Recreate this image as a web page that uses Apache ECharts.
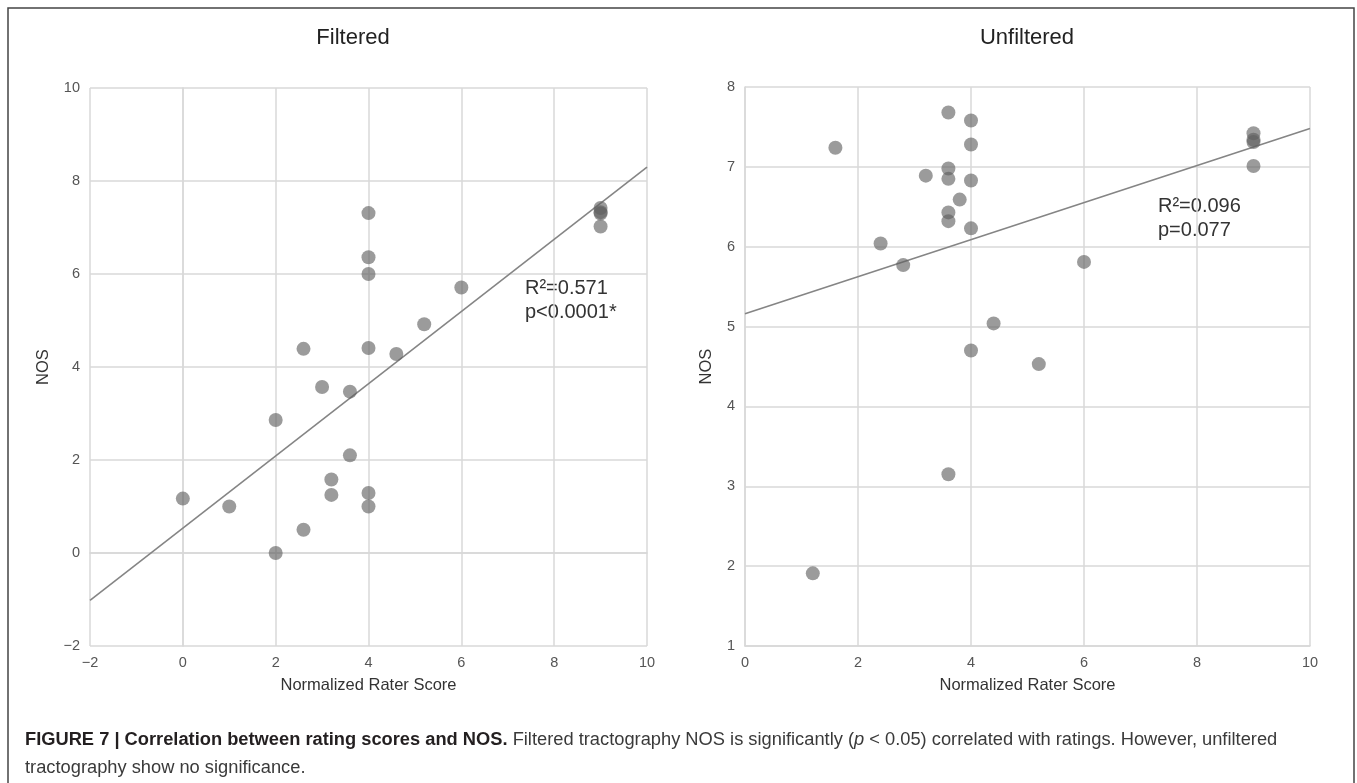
<!DOCTYPE html>
<html>
<head>
<meta charset="utf-8">
<script src="https://cdn.jsdelivr.net/npm/echarts@6/dist/echarts.min.js"></script>
<style>
html,body{margin:0;padding:0;background:#fff;}
#chart{width:1357px;height:783px;}
</style>
</head>
<body>
<div id="chart"></div>
<script>
// ---- Data ----
var panelTitles = ['Filtered', 'Unfiltered'];
var xAxisName = 'Normalized Rater Score';
var yAxisName = 'NOS';

// Filtered: [Normalized Rater Score, NOS]
var filteredPoints = [
  [0, 1.17], [1, 1.0], [2, 2.86], [2, 0.0], [2.6, 4.39], [2.6, 0.5],
  [3.0, 3.57], [3.2, 1.58], [3.2, 1.25], [3.6, 3.47], [3.6, 2.1],
  [4, 7.31], [4, 6.36], [4, 6.0], [4, 4.41], [4, 1.29], [4, 1.0],
  [4.6, 4.28], [5.2, 4.92], [6, 5.71],
  [9, 7.42], [9, 7.33], [9, 7.30], [9, 7.02]
];
var filteredFit = [[-2, -1.02], [10, 8.30]];
var filteredStats = ['R\u00b2=0.571', 'p<0.0001*'];

// Unfiltered: [Normalized Rater Score, NOS]
var unfilteredPoints = [
  [1.2, 1.91], [1.6, 7.24], [2.4, 6.04], [2.8, 5.77], [3.2, 6.89],
  [3.6, 7.68], [3.6, 6.98], [3.6, 6.85], [3.6, 6.43], [3.6, 6.32], [3.6, 3.15],
  [3.8, 6.59],
  [4, 7.58], [4, 7.28], [4, 6.83], [4, 6.23], [4, 4.70],
  [4.4, 5.04], [5.2, 4.53], [6, 5.81],
  [9, 7.42], [9, 7.34], [9, 7.31], [9, 7.01]
];
var unfilteredFit = [[0, 5.16], [10, 7.48]];
var unfilteredStats = ['R\u00b2=0.096', 'p=0.077'];

var filteredX = {min: -2, max: 10, interval: 2};
var filteredY = {min: -2, max: 10, interval: 2};
var unfilteredX = {min: 0, max: 10, interval: 2};
var unfilteredY = {min: 1, max: 8, interval: 1};

var captionBold = 'FIGURE 7 | Correlation between rating scores and NOS.';
var captionRest1 = ' Filtered tractography NOS is significantly (';
var captionItalic = 'p';
var captionRest2 = ' < 0.05) correlated with ratings. However, unfiltered';
var captionLine2 = 'tractography show no significance.';

// ---- Chart ----
var FONT = '"Liberation Sans", Arial, Helvetica, sans-serif';
var gridColor = '#d8d8d8';
var dotColor = 'rgba(95,95,95,0.78)';
var fitColor = '#858585';

function minusFmt(v) { return String(v).replace('-', '\u2212'); }

function xAxisCfg(idx, r) {
  return {
    type: 'value', gridIndex: idx, min: r.min, max: r.max, interval: r.interval,
    name: xAxisName, nameLocation: 'middle', nameGap: 31,
    nameTextStyle: {fontFamily: FONT, fontSize: 16.5, color: '#333'},
    axisLine: {show: true, lineStyle: {color: gridColor, width: 1.5}},
    axisTick: {show: false},
    axisLabel: {fontFamily: FONT, fontSize: 14.5, color: '#555', margin: 9, formatter: minusFmt},
    splitLine: {show: true, lineStyle: {color: gridColor, width: 1.5}}
  };
}
function yAxisCfg(idx, r, gap) {
  return {
    type: 'value', gridIndex: idx, min: r.min, max: r.max, interval: r.interval,
    name: yAxisName, nameLocation: 'middle', nameGap: gap, nameRotate: 90,
    nameTextStyle: {fontFamily: FONT, fontSize: 16.5, color: '#333'},
    axisLine: {show: true, lineStyle: {color: gridColor, width: 1.5}},
    axisTick: {show: false},
    axisLabel: {fontFamily: FONT, fontSize: 14.5, color: '#555', margin: 10, formatter: minusFmt},
    splitLine: {show: true, lineStyle: {color: gridColor, width: 1.5}}
  };
}
function scatterCfg(idx, pts) {
  return {
    type: 'scatter', xAxisIndex: idx, yAxisIndex: idx, data: pts,
    symbolSize: 14, itemStyle: {color: dotColor}, z: 3, silent: true
  };
}
function fitCfg(idx, pts) {
  return {
    type: 'line', xAxisIndex: idx, yAxisIndex: idx, data: pts,
    showSymbol: false, symbol: 'none', lineStyle: {color: fitColor, width: 1.6}, z: 2, silent: true
  };
}
function statsText(x, y, lines) {
  return {
    type: 'text', left: x, top: y,
    style: {text: lines.join('\n'), font: '20px ' + FONT, fill: '#333', lineHeight: 24}
  };
}

var chart = echarts.init(document.getElementById('chart'), null, {renderer: 'canvas'});
chart.setOption({
  animation: false,
  backgroundColor: '#fff',
  grid: [
    {left: 90, right: 710, top: 88, bottom: 137},
    {left: 745, right: 47, top: 87, bottom: 137}
  ],
  xAxis: [xAxisCfg(0, filteredX), xAxisCfg(1, unfilteredX)],
  yAxis: [yAxisCfg(0, filteredY, 38), yAxisCfg(1, unfilteredY, 30)],
  series: [
    fitCfg(0, filteredFit), scatterCfg(0, filteredPoints),
    fitCfg(1, unfilteredFit), scatterCfg(1, unfilteredPoints)
  ],
  graphic: [
    {type: 'rect', shape: {x: 8, y: 8, width: 1346, height: 800},
     style: {fill: 'none', stroke: '#444', lineWidth: 1.5}, silent: true},
    {type: 'text', x: 353, y: 38,
     style: {text: panelTitles[0], font: '22px ' + FONT, fill: '#222', align: 'center', verticalAlign: 'middle'}},
    {type: 'text', x: 1027, y: 38,
     style: {text: panelTitles[1], font: '22px ' + FONT, fill: '#222', align: 'center', verticalAlign: 'middle'}},
    statsText(525, 276, filteredStats),
    statsText(1158, 194, unfilteredStats),
    {type: 'text', left: 25, top: 731,
     style: {
       text: '{b|' + captionBold + '}{n|' + captionRest1 + '}{i|' + captionItalic + '}{n|' + captionRest2 + '}\n{n|' + captionLine2 + '}',
       rich: {
         b: {fontFamily: FONT, fontSize: 18.3, fontWeight: 'bold', fill: '#231f20', color: '#231f20', lineHeight: 28},
         n: {fontFamily: FONT, fontSize: 18.3, fill: '#3a3a3a', color: '#3a3a3a', lineHeight: 28},
         i: {fontFamily: FONT, fontSize: 18.3, fontStyle: 'italic', fill: '#3a3a3a', color: '#3a3a3a', lineHeight: 28}
       }
     }}
  ]
});
</script>
</body>
</html>
